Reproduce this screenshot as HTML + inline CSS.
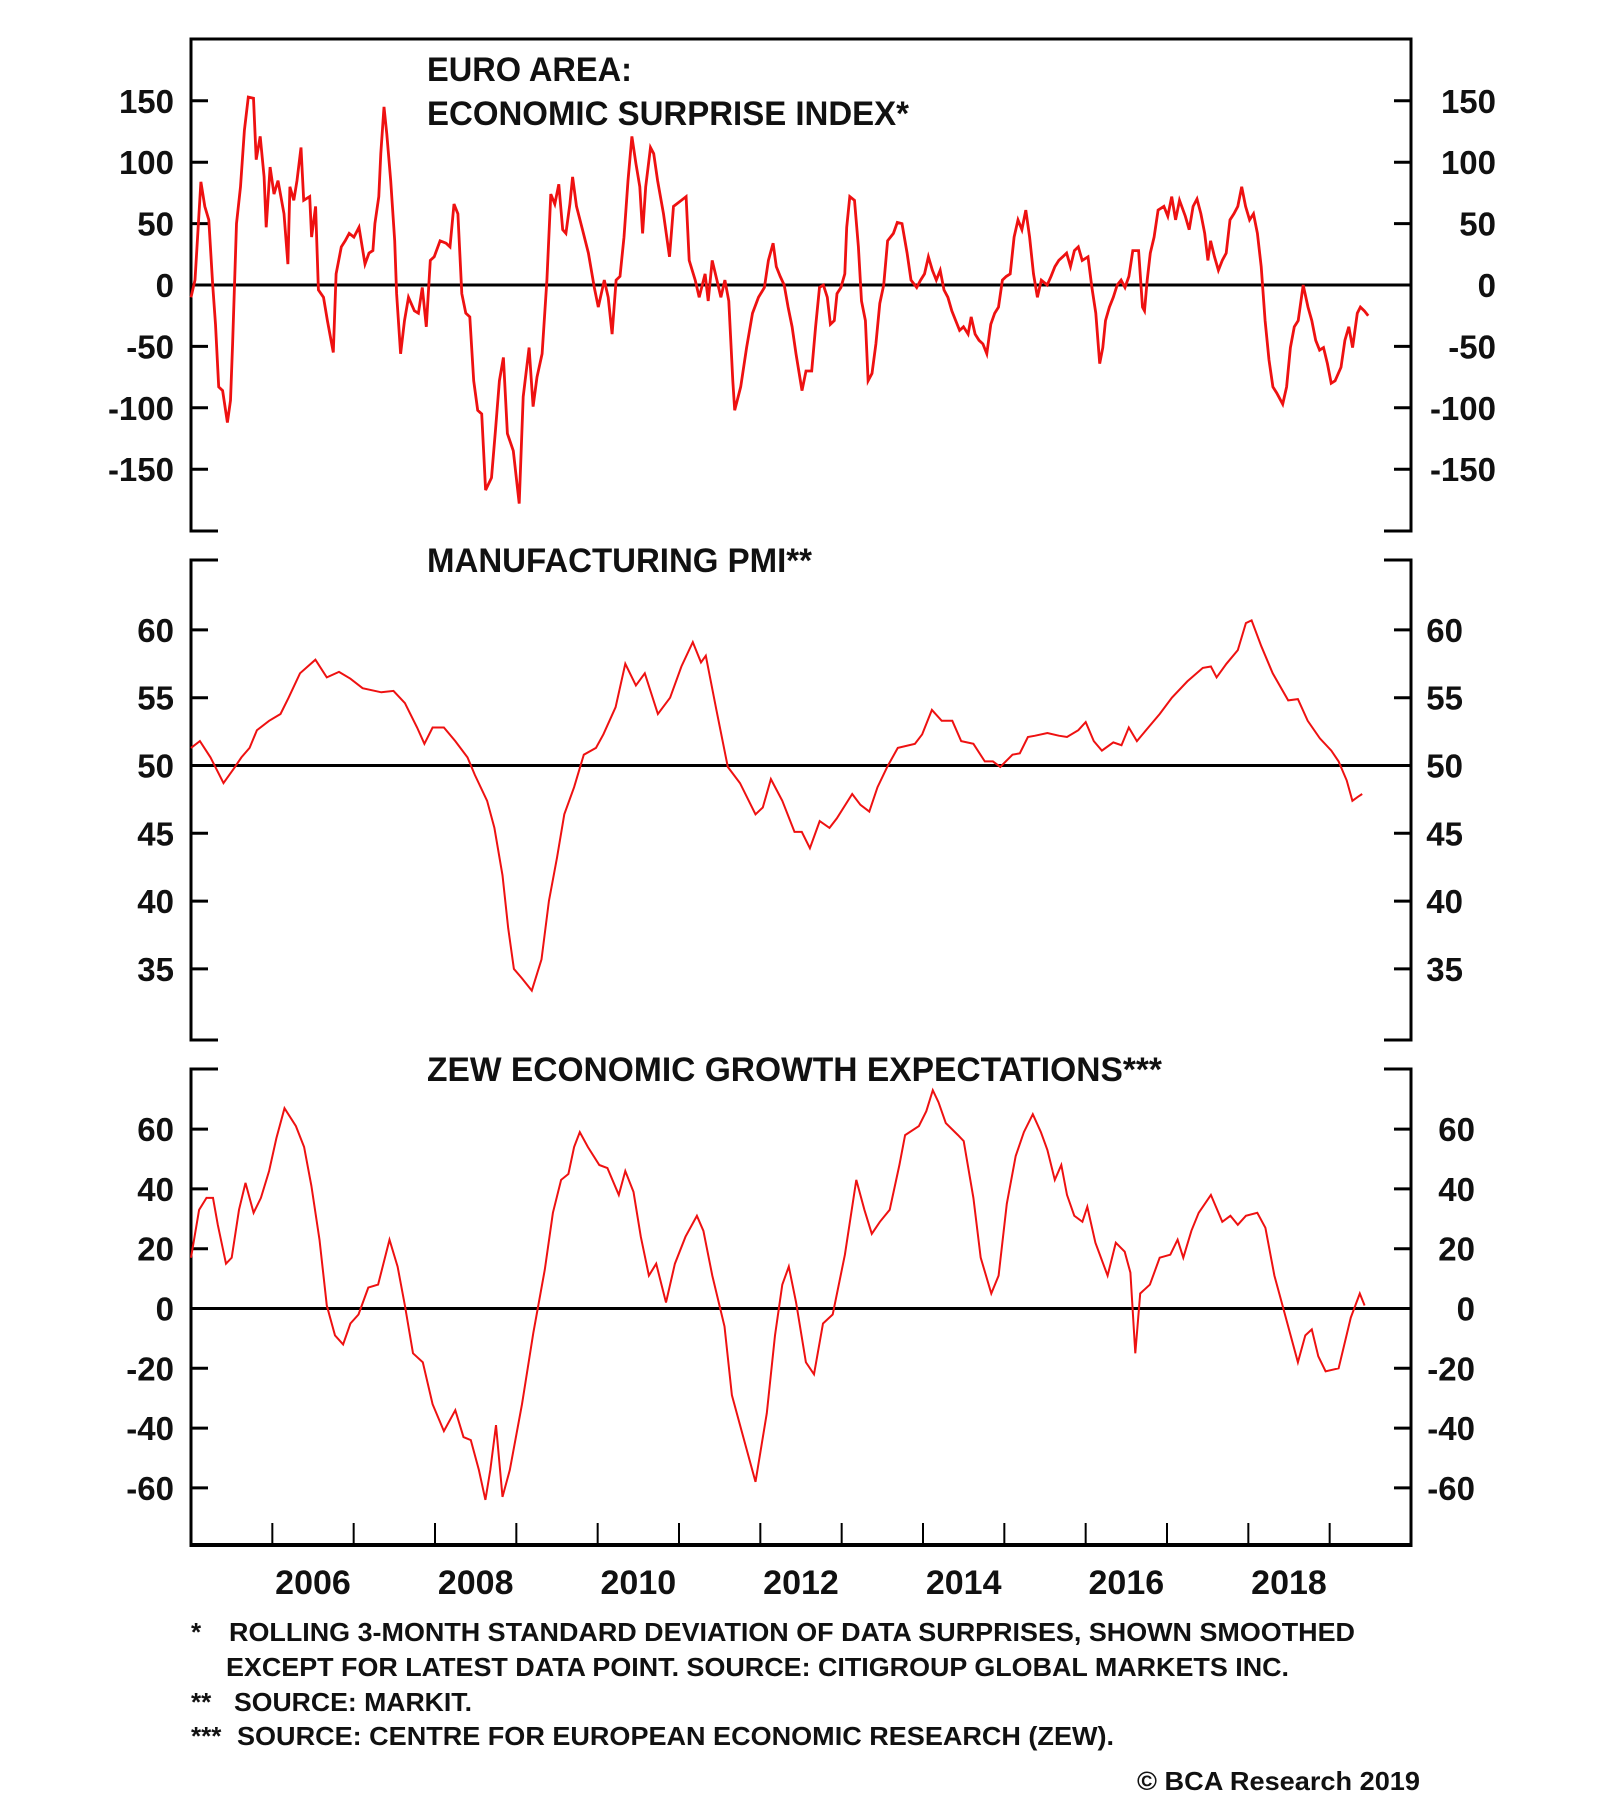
<!DOCTYPE html>
<html><head><meta charset="utf-8"><title>Euro Area Surprise, PMI, ZEW</title>
<style>
html,body{margin:0;padding:0;background:#fff;}
svg{display:block;}
text{font-family:"Liberation Sans",Arial,sans-serif;fill:#111;}
</style></head>
<body>
<svg id="chart" width="1600" height="1816" viewBox="0 0 1600 1816" xmlns="http://www.w3.org/2000/svg">
<g id="frames"></g>
<g id="grid"></g>
<g id="series"></g>
<g id="labels">
  <text x="427" y="81" font-size="34" font-weight="bold" textLength="205" lengthAdjust="spacingAndGlyphs">EURO AREA:</text>
  <text x="427" y="125" font-size="34" font-weight="bold" textLength="482" lengthAdjust="spacingAndGlyphs">ECONOMIC SURPRISE INDEX*</text>
  <text x="427" y="572" font-size="34" font-weight="bold" textLength="385" lengthAdjust="spacingAndGlyphs">MANUFACTURING PMI**</text>
  <text x="427" y="1081" font-size="34" font-weight="bold" textLength="735" lengthAdjust="spacingAndGlyphs">ZEW ECONOMIC GROWTH EXPECTATIONS***</text>
  <text x="191" y="1641" font-size="26" font-weight="bold">*</text>
  <text x="229" y="1641" font-size="26" font-weight="bold" textLength="1126" lengthAdjust="spacingAndGlyphs">ROLLING 3-MONTH STANDARD DEVIATION OF DATA SURPRISES, SHOWN SMOOTHED</text>
  <text x="226" y="1676" font-size="26" font-weight="bold" textLength="1063" lengthAdjust="spacingAndGlyphs">EXCEPT FOR LATEST DATA POINT. SOURCE: CITIGROUP GLOBAL MARKETS INC.</text>
  <text x="191" y="1711" font-size="26" font-weight="bold">**</text>
  <text x="234" y="1711" font-size="26" font-weight="bold" textLength="238" lengthAdjust="spacingAndGlyphs">SOURCE: MARKIT.</text>
  <text x="191" y="1745" font-size="26" font-weight="bold">***</text>
  <text x="237" y="1745" font-size="26" font-weight="bold" textLength="877" lengthAdjust="spacingAndGlyphs">SOURCE: CENTRE FOR EUROPEAN ECONOMIC RESEARCH (ZEW).</text>
  <text x="1137" y="1790" font-size="26" font-weight="bold" textLength="283" lengthAdjust="spacingAndGlyphs">© BCA Research 2019</text>
</g>
</svg>
<script>
// ---- data ----
const esiDates = [2005.000,2005.049,2005.122,2005.170,2005.219,2005.267,2005.301,2005.340,2005.389,2005.447,2005.486,2005.511,2005.559,2005.608,2005.656,2005.705,2005.768,2005.802,2005.851,2005.899,2005.924,2005.972,2006.021,2006.070,2006.143,2006.191,2006.216,2006.264,2006.303,2006.352,2006.386,2006.459,2006.483,2006.532,2006.566,2006.629,2006.677,2006.750,2006.784,2006.848,2006.896,2006.945,2007.003,2007.066,2007.139,2007.188,2007.237,2007.261,2007.309,2007.334,2007.373,2007.407,2007.455,2007.504,2007.528,2007.577,2007.625,2007.674,2007.747,2007.796,2007.844,2007.893,2007.942,2007.990,2008.063,2008.136,2008.185,2008.233,2008.282,2008.330,2008.379,2008.428,2008.476,2008.525,2008.574,2008.622,2008.695,2008.744,2008.792,2008.841,2008.890,2008.963,2009.035,2009.084,2009.157,2009.206,2009.254,2009.317,2009.376,2009.424,2009.473,2009.522,2009.570,2009.609,2009.658,2009.692,2009.740,2009.813,2009.886,2009.959,2010.008,2010.081,2010.129,2010.178,2010.227,2010.275,2010.324,2010.373,2010.421,2010.470,2010.518,2010.552,2010.591,2010.650,2010.689,2010.737,2010.810,2010.883,2010.932,2011.029,2011.087,2011.126,2011.199,2011.248,2011.321,2011.359,2011.408,2011.466,2011.515,2011.564,2011.612,2011.661,2011.685,2011.758,2011.831,2011.904,2011.977,2012.050,2012.099,2012.157,2012.196,2012.244,2012.293,2012.342,2012.390,2012.439,2012.512,2012.561,2012.632,2012.679,2012.727,2012.775,2012.823,2012.861,2012.909,2012.943,2012.990,2013.038,2013.062,2013.100,2013.158,2013.206,2013.244,2013.292,2013.325,2013.373,2013.421,2013.469,2013.517,2013.565,2013.636,2013.684,2013.742,2013.804,2013.852,2013.923,2013.971,2014.019,2014.067,2014.115,2014.163,2014.211,2014.258,2014.306,2014.354,2014.402,2014.450,2014.498,2014.555,2014.593,2014.641,2014.689,2014.737,2014.785,2014.833,2014.881,2014.928,2014.976,2015.024,2015.072,2015.120,2015.168,2015.216,2015.264,2015.311,2015.359,2015.407,2015.455,2015.527,2015.574,2015.622,2015.670,2015.718,2015.766,2015.814,2015.861,2015.909,2015.957,2016.029,2016.077,2016.125,2016.172,2016.211,2016.244,2016.292,2016.340,2016.388,2016.436,2016.483,2016.531,2016.579,2016.651,2016.699,2016.723,2016.756,2016.795,2016.842,2016.890,2016.962,2017.010,2017.058,2017.106,2017.154,2017.225,2017.273,2017.321,2017.369,2017.417,2017.464,2017.503,2017.536,2017.584,2017.632,2017.680,2017.728,2017.775,2017.823,2017.871,2017.919,2017.967,2018.015,2018.063,2018.111,2018.158,2018.206,2018.254,2018.302,2018.350,2018.422,2018.470,2018.517,2018.565,2018.613,2018.675,2018.733,2018.780,2018.828,2018.876,2018.924,2018.972,2019.019,2019.067,2019.139,2019.187,2019.235,2019.282,2019.340,2019.378,2019.426,2019.474];
const esiValues = [-10,4,84,64,53,0,-32,-83,-86,-112,-94,-48,50,80,126,153,152,102,121,88,47,96,74,85,58,17,80,69,85,112,69,72,39,64,-4,-10,-29,-55,9,31,36,42,39,47,17,26,28,50,72,107,145,123,85,36,-7,-56,-29,-10,-21,-23,-2,-34,20,23,36,34,31,66,58,-7,-23,-26,-78,-102,-105,-167,-157,-118,-78,-59,-121,-135,-178,-91,-51,-99,-75,-56,4,74,66,82,45,42,66,88,64,45,26,-2,-18,4,-10,-40,4,7,39,85,121,99,80,42,80,112,107,85,58,23,64,69,72,20,4,-10,9,-13,20,4,-10,4,-13,-78,-102,-83,-51,-23,-10,-2,20,34,15,7,0,-18,-34,-56,-86,-70,-70,-34,-2,0,-10,-32,-29,-7,-2,9,47,72,69,31,-13,-29,-78,-72,-48,-15,0,36,42,51,50,26,4,-2,4,9,23,12,4,12,-4,-10,-21,-29,-37,-34,-40,-26,-40,-45,-48,-56,-32,-23,-18,4,7,9,39,53,45,61,39,9,-10,4,0,7,15,20,23,26,15,28,31,20,23,-2,-23,-64,-51,-29,-18,-10,0,4,-2,7,28,28,-18,-21,4,26,39,61,64,56,72,53,69,56,45,64,70,58,42,20,36,23,12,20,26,53,58,64,80,64,53,58,42,15,-29,-61,-83,-88,-97,-83,-51,-34,-29,0,-18,-29,-45,-53,-51,-64,-80,-78,-67,-45,-34,-51,-23,-18,-21,-25];

const pmiDates = [2005.00,2005.11,2005.24,2005.40,2005.53,2005.62,2005.72,2005.81,2005.96,2006.10,2006.20,2006.34,2006.53,2006.67,2006.82,2006.96,2007.11,2007.34,2007.49,2007.63,2007.78,2007.87,2007.97,2008.11,2008.25,2008.40,2008.49,2008.64,2008.73,2008.83,2008.90,2008.97,2009.07,2009.19,2009.31,2009.40,2009.50,2009.59,2009.71,2009.83,2009.98,2010.07,2010.22,2010.34,2010.47,2010.58,2010.74,2010.89,2011.03,2011.17,2011.27,2011.33,2011.46,2011.60,2011.75,2011.94,2012.03,2012.13,2012.27,2012.42,2012.51,2012.61,2012.73,2012.85,2012.94,2013.13,2013.23,2013.34,2013.44,2013.56,2013.69,2013.90,2013.99,2014.11,2014.23,2014.36,2014.47,2014.62,2014.76,2014.86,2014.95,2015.10,2015.19,2015.29,2015.38,2015.53,2015.67,2015.77,2015.91,2016.00,2016.10,2016.20,2016.34,2016.44,2016.53,2016.63,2016.77,2016.91,2017.06,2017.25,2017.44,2017.54,2017.61,2017.73,2017.87,2017.97,2018.04,2018.16,2018.30,2018.49,2018.61,2018.73,2018.88,2019.02,2019.11,2019.21,2019.28,2019.35,2019.40];
const pmiValues = [51.3,51.8,50.6,48.7,49.8,50.6,51.3,52.6,53.3,53.8,55.0,56.8,57.8,56.5,56.9,56.4,55.7,55.4,55.5,54.6,52.8,51.6,52.8,52.8,51.8,50.6,49.3,47.4,45.4,41.9,38.0,35.0,34.3,33.4,35.7,40.0,43.2,46.4,48.4,50.8,51.3,52.3,54.3,57.5,55.9,56.8,53.8,55.0,57.3,59.1,57.6,58.1,54.1,49.9,48.7,46.4,46.9,49.0,47.4,45.1,45.1,43.9,45.9,45.4,46.1,47.9,47.1,46.6,48.4,49.9,51.3,51.6,52.3,54.1,53.3,53.3,51.8,51.6,50.3,50.3,49.9,50.8,50.9,52.1,52.2,52.4,52.2,52.1,52.6,53.2,51.8,51.1,51.7,51.5,52.8,51.8,52.8,53.8,55.0,56.2,57.2,57.3,56.5,57.5,58.5,60.5,60.7,58.8,56.8,54.8,54.9,53.3,52.0,51.1,50.3,48.9,47.4,47.7,47.9];

const zewDates = [2005.00,2005.10,2005.19,2005.27,2005.33,2005.43,2005.50,2005.59,2005.67,2005.77,2005.86,2005.96,2006.05,2006.15,2006.29,2006.39,2006.48,2006.58,2006.67,2006.77,2006.87,2006.96,2007.06,2007.18,2007.30,2007.44,2007.54,2007.63,2007.73,2007.85,2007.97,2008.11,2008.25,2008.35,2008.44,2008.54,2008.62,2008.68,2008.75,2008.83,2008.92,2009.07,2009.21,2009.35,2009.45,2009.55,2009.64,2009.71,2009.78,2009.88,2010.02,2010.12,2010.26,2010.34,2010.44,2010.53,2010.63,2010.72,2010.84,2010.95,2011.08,2011.22,2011.30,2011.41,2011.56,2011.65,2011.79,2011.94,2012.08,2012.18,2012.27,2012.35,2012.44,2012.56,2012.66,2012.77,2012.89,2013.04,2013.18,2013.28,2013.37,2013.47,2013.59,2013.71,2013.78,2013.95,2014.04,2014.12,2014.19,2014.28,2014.43,2014.50,2014.62,2014.71,2014.84,2014.93,2015.03,2015.14,2015.24,2015.35,2015.45,2015.53,2015.62,2015.70,2015.77,2015.86,2015.96,2016.02,2016.12,2016.27,2016.37,2016.48,2016.55,2016.61,2016.67,2016.79,2016.91,2017.04,2017.13,2017.20,2017.30,2017.39,2017.54,2017.68,2017.78,2017.87,2017.97,2018.11,2018.21,2018.32,2018.40,2018.51,2018.61,2018.70,2018.78,2018.86,2018.95,2019.11,2019.26,2019.37,2019.43];
const zewValues = [17,33,37,37,28,15,17,33,42,32,37,46,57,67,61,54,41,23,1,-9,-12,-5,-2,7,8,23,14,1,-15,-18,-32,-41,-34,-43,-44,-54,-64,-54,-39,-63,-54,-32,-8,13,32,43,45,54,59,54,48,47,38,46,39,24,11,15,2,15,24,31,26,11,-6,-29,-43,-58,-35,-9,8,14,2,-18,-22,-5,-2,18,43,33,25,29,33,48,58,61,66,73,69,62,58,56,37,17,5,11,35,51,59,65,59,53,43,48,38,31,29,34,22,11,22,19,12,-15,5,8,17,18,23,17,26,32,38,29,31,28,31,32,27,11,3,-8,-18,-9,-7,-16,-21,-20,-3,5,1];

const esiTicks = [150,100,50,0,-50,-100,-150];
const pmiTicks = [60,55,50,45,40,35];
const zewTicks = [60,40,20,0,-20,-40,-60];
const yearLabels = [2006,2008,2010,2012,2014,2016,2018];
const yearTicks = [2006,2007,2008,2009,2010,2011,2012,2013,2014,2015,2016,2017,2018,2019];

// ---- scales ----
const NS = 'http://www.w3.org/2000/svg';
const L = 191, R = 1411;
const X = y => L + (y - 2005) * (R - L) / 15;
const panels = [
  {top:39, bottom:531, v0:0, y0:285, k:1.228, ticks:esiTicks, rx:1496, dates:esiDates, vals:esiValues, lw:2.8, name:'surprise-index'},
  {top:560, bottom:1040, v0:50, y0:765.5, k:13.56, ticks:pmiTicks, rx:1463, dates:pmiDates, vals:pmiValues, lw:2, name:'manufacturing-pmi'},
  {top:1069, bottom:1545, v0:0, y0:1308.5, k:2.99, ticks:zewTicks, rx:1475, dates:zewDates, vals:zewValues, lw:2, name:'zew-expectations'}
];
function mk(tag, attrs, parent){
  const e = document.createElementNS(NS, tag);
  for (const a in attrs) e.setAttribute(a, attrs[a]);
  parent.appendChild(e); return e;
}
const frames = document.getElementById('frames');
const grid = document.getElementById('grid');
const series = document.getElementById('series');

function seg(x1,y1,x2,y2,w,parent,name){
  const l = mk('line',{x1:x1,y1:y1,x2:x2,y2:y2,stroke:'#000','stroke-width':w},parent);
  
  
  return l;
}

panels.forEach((p, i) => {
  const Y = v => p.y0 - (v - p.v0) * p.k;
  // verticals
  seg(L, p.top, L, p.bottom, 3, frames, 'frame-left');
  seg(R, p.top, R, p.bottom, 3, frames, 'frame-right');
  // top border / stubs
  if (i === 0) { seg(L-1.5, p.top, R+1.5, p.top, 3, frames, 'frame-top'); }
  else { seg(L-1.5, p.top, L+27, p.top, 3, frames, 'frame-stub'); seg(R-27, p.top, R+1.5, p.top, 3, frames, 'frame-stub'); }
  if (i === 2) { seg(L-1.5, p.bottom, R+1.5, p.bottom, 4, frames, 'frame-bottom'); }
  else { seg(L-1.5, p.bottom, L+27, p.bottom, 3, frames, 'frame-stub'); seg(R-27, p.bottom, R+1.5, p.bottom, 3, frames, 'frame-stub'); }
  // zero / reference line
  seg(L, Y(p.v0), R, Y(p.v0), 3, grid, 'reference-line');
  // ticks and labels
  p.ticks.forEach(t => {
    const y = Y(t);
    seg(L, y, L+17, y, 3, grid, 'y-tick-left');
    seg(R-17, y, R, y, 3, grid, 'y-tick-right');
    const tl = mk('text',{x:174, y:y+12, 'font-size':33, 'font-weight':'bold', 'text-anchor':'end'}, grid);
    
    
    tl.textContent = t;
    const tr = mk('text',{x:p.rx, y:y+12, 'font-size':33, 'font-weight':'bold', 'text-anchor':'end'}, grid);
    
    
    tr.textContent = t;
  });
  // series
  let d = '';
  p.dates.forEach((dt, j) => { d += (j ? 'L' : 'M') + X(dt).toFixed(1) + ' ' + Y(p.vals[j]).toFixed(1); });
  const path = mk('path',{d:d, fill:'none', stroke:'#ee1111', 'stroke-width':p.lw, 'stroke-linejoin':'miter'}, series);
  
  
});

// x ticks
yearTicks.forEach(yr => {
  seg(X(yr), 1545, X(yr), 1523, 2, grid, 'x-tick');
});
yearLabels.forEach(yr => {
  const t = mk('text',{x:X(yr + 0.5), y:1594, 'font-size':34, 'font-weight':'bold', 'text-anchor':'middle'}, grid);
  
  
  t.textContent = yr;
});
</script>
</body></html>
